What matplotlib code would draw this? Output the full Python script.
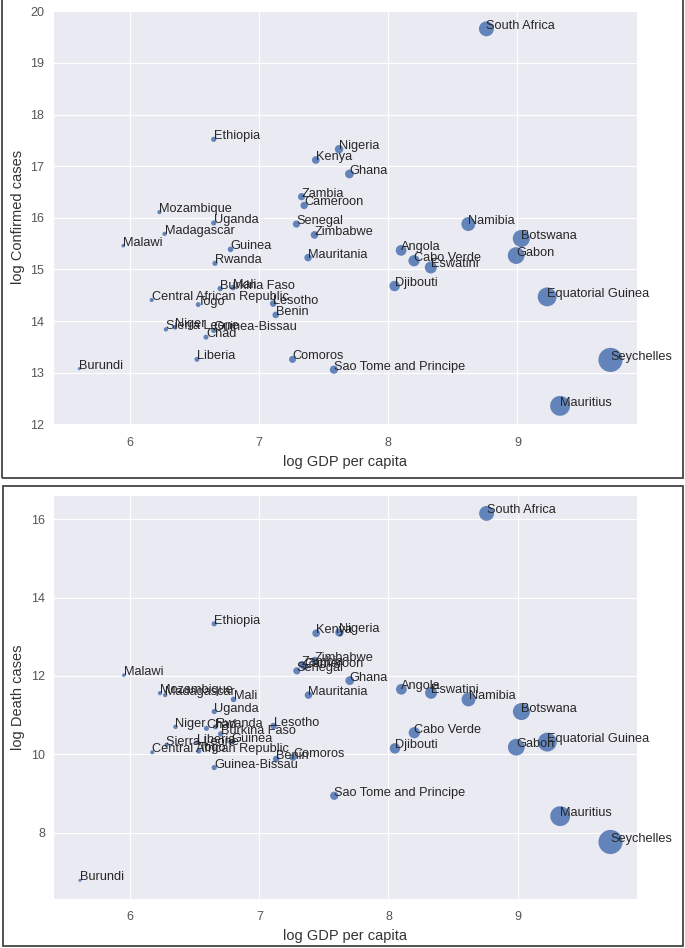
import numpy as np
import matplotlib
matplotlib.use('Agg')
import matplotlib.pyplot as plt
from matplotlib.patches import Rectangle
import seaborn as sns

countries = ['South Africa', 'Ethiopia', 'Nigeria', 'Kenya', 'Ghana', 'Zambia', 'Cameroon',
             'Mozambique', 'Uganda', 'Senegal', 'Madagascar', 'Zimbabwe', 'Malawi', 'Guinea',
             'Rwanda', 'Mauritania', 'Namibia', 'Botswana', 'Gabon', 'Angola', 'Cabo Verde',
             'Eswatini', 'Djibouti', 'Equatorial Guinea', 'Burkina Faso', 'Mali',
             'Central African Republic', 'Togo', 'Lesotho', 'Benin', 'Sierra Leone', 'Niger',
             'Guinea-Bissau', 'Chad', 'Liberia', 'Comoros', 'Sao Tome and Principe', 'Burundi',
             'Seychelles', 'Mauritius']

log_gdp = [8.76, 6.65, 7.62, 7.44, 7.70, 7.33, 7.35,
           6.23, 6.65, 7.29, 6.27, 7.43, 5.95, 6.78,
           6.66, 7.38, 8.62, 9.03, 8.99, 8.10, 8.20,
           8.33, 8.05, 9.23, 6.70, 6.80,
           6.17, 6.53, 7.11, 7.13, 6.28, 6.35,
           6.65, 6.59, 6.52, 7.26, 7.58, 5.61,
           9.72, 9.33]

log_confirmed = [19.66, 17.52, 17.33, 17.12, 16.85, 16.41, 16.24,
                 16.11, 15.90, 15.88, 15.69, 15.67, 15.46, 15.39,
                 15.12, 15.23, 15.88, 15.60, 15.27, 15.37, 15.17,
                 15.04, 14.68, 14.47, 14.63, 14.65,
                 14.41, 14.32, 14.34, 14.12, 13.84, 13.88,
                 13.82, 13.69, 13.26, 13.26, 13.06, 13.08,
                 13.25, 12.36]

log_deaths = [16.15, 13.33, 13.11, 13.09, 11.88, 12.29, 12.24,
              11.56, 11.09, 12.13, 11.51, 12.39, 12.02, 10.31,
              10.70, 11.51, 11.40, 11.09, 10.18, 11.66, 10.55,
              11.57, 10.15, 10.31, 10.52, 11.40,
              10.05, 10.08, 10.72, 9.88, 10.24, 10.70,
              9.66, 10.66, 10.30, 9.92, 8.94, 6.78,
              7.76, 8.42]

sns.set_style('darkgrid')
plt.rcParams['font.family'] = ['Liberation Sans', 'DejaVu Sans']
plt.rcParams['xtick.major.pad'] = 5.5
plt.rcParams['ytick.major.pad'] = 2.6

# bubble size follows GDP per capita
sizes = np.exp(np.array(log_gdp)) / 55

fig = plt.figure(figsize=(6.85, 9.48), dpi=100)


def bubble_panel(ax, yvals, ylabel):
    ax.scatter(log_gdp, yvals, s=sizes, color='#4C72B0', alpha=0.85, linewidths=0)
    for name, xv, yv in zip(countries, log_gdp, yvals):
        ax.text(xv, yv, name, fontsize=9.2, color='#262626')
    ax.set_xlabel('log GDP per capita', fontsize=10.5, color='#333333')
    ax.set_ylabel(ylabel, fontsize=10.5, color='#333333')
    ax.tick_params(labelsize=9, colors='#555555')
    ax.set_xticks([6, 7, 8, 9])


ax1 = fig.add_axes([0.077, 0.552, 0.853, 0.4375])
bubble_panel(ax1, log_confirmed, 'log Confirmed cases')

ax2 = fig.add_axes([0.078, 0.052, 0.852, 0.4258])
bubble_panel(ax2, log_deaths, 'log Death cases')
ax2.set_yticks([8, 10, 12, 14, 16])

# frames around each panel
fig.patches.append(Rectangle((0.003, 0.4958), 0.994, 0.52, transform=fig.transFigure,
                             fill=False, edgecolor='#444444', linewidth=1.3))
fig.patches.append(Rectangle((0.004, 0.0025), 0.993, 0.4848, transform=fig.transFigure,
                             fill=False, edgecolor='#444444', linewidth=1.3))

fig.savefig('out.png', dpi=100)
